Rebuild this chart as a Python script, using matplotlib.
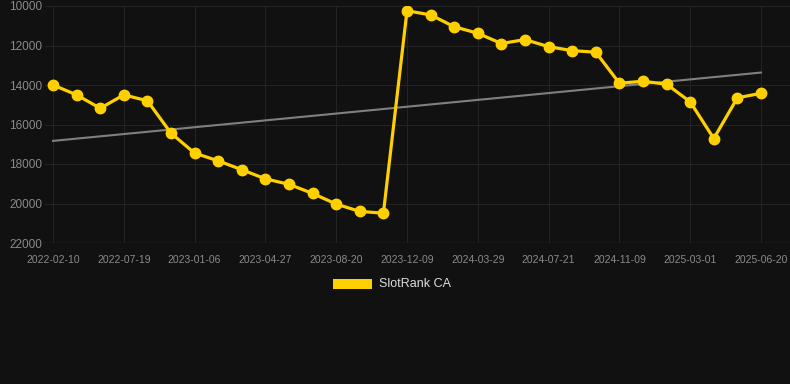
import matplotlib
matplotlib.use("Agg")
import matplotlib.pyplot as plt
import numpy as np

tick_labels = ["2022-02-10", "2022-07-19", "2023-01-06", "2023-04-27", "2023-08-20",
               "2023-12-09", "2024-03-29", "2024-07-21", "2024-11-09", "2025-03-01",
               "2025-06-20"]
rank = [14000, 14500, 15180, 14500, 14800, 16440, 17450, 17840, 18290, 18750,
        19030, 19490, 20030, 20400, 20490, 10240, 10450, 11050, 11380, 11900,
        11700, 12060, 12260, 12340, 13910, 13810, 13960, 14850, 16710, 14650,
        14420]
trend_ends = [16830, 13370]
series_name = "SlotRank CA"

bg = "#111111"
fig = plt.figure(figsize=(7.9, 3.84), dpi=100, facecolor=bg)
ax = fig.add_axes([45/790, 1-243/384, 1-45/790, (243-6)/384])
ax.set_facecolor(bg)

x = np.arange(len(rank))
ax.plot([x[0], x[-1]], trend_ends, color="#808080", lw=1.5, zorder=2)
ax.plot(x, rank, color="#FFD000", lw=2.3, marker="o", ms=7.5, zorder=3)

ax.set_ylim(22000, 10000)
ax.set_yticks(np.arange(10000, 22001, 2000))
ax.set_xlim(-0.34, 31.23)
ax.set_xticks(x[::3])
ax.set_xticklabels(tick_labels)

for s in ax.spines.values():
    s.set_visible(False)
ax.grid(True, color="#232323", lw=0.8)
ax.axhline(22000, color="#2e2e2e", lw=1, zorder=1)
ax.tick_params(axis="both", length=0, colors="#8a8a8a", labelsize=7.5)
ax.tick_params(axis="y", pad=2)
ax.tick_params(axis="x", pad=8.5)
for lab in ax.get_xticklabels() + ax.get_yticklabels():
    lab.set_fontfamily("Liberation Sans")
for lab in ax.get_yticklabels():
    lab.set_fontsize(8.5)

# legend
fig.patches.append(matplotlib.patches.Rectangle((333/790, 1-289/384), 39/790, 10/384,
                   transform=fig.transFigure, facecolor="#FFD000", edgecolor="none"))
fig.text(379/790, 1-284/384, series_name, color="#dddddd", fontsize=9,
         family="Liberation Sans", va="center", ha="left")

fig.savefig("out.png", dpi=100, facecolor=bg)
